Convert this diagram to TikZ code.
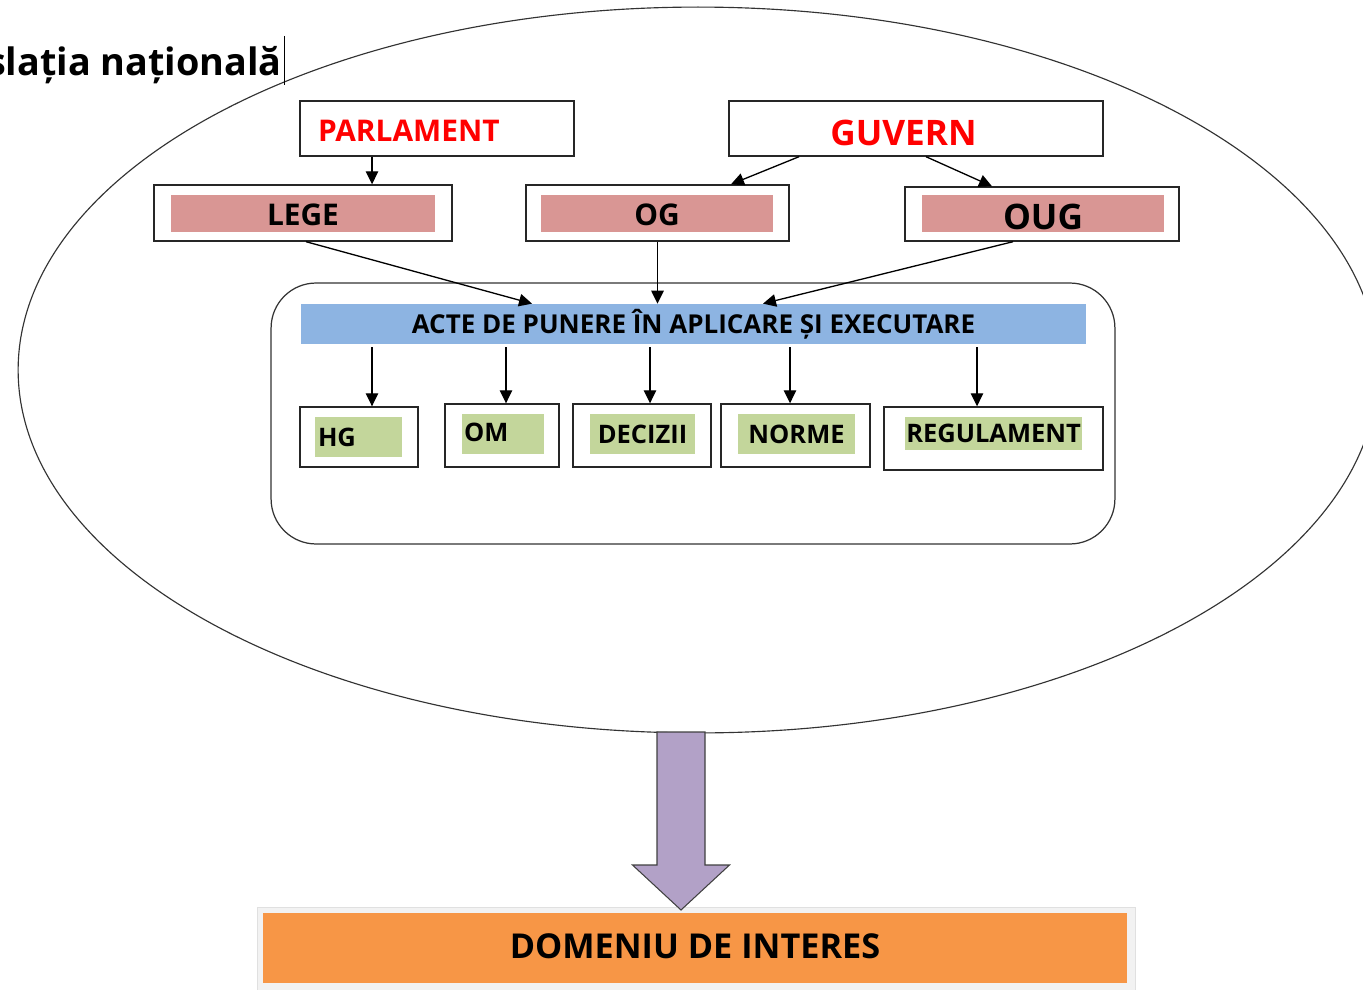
\documentclass[tikz,border=0pt]{standalone}
\usepackage{fontspec}
\setmainfont{Open Sans}
\usetikzlibrary{shapes.geometric,arrows.meta,calc}
\definecolor{roz}{HTML}{D99694}
\definecolor{albastru}{HTML}{8DB4E2}
\definecolor{verde}{HTML}{C3D69B}
\definecolor{mov}{HTML}{B2A1C7}
\definecolor{portocaliu}{HTML}{F79646}
\newcommand{\coboara}[2]{\raisebox{#1}[\height][\depth]{#2}}

\begin{document}
\begin{tikzpicture}[x=0.02cm, y=-0.02cm,
    cadru/.style={draw=black!85, line width=0.8pt, fill=white, inner sep=0},
    bara/.style={inner sep=0, text=black},
    litmic/.style={font=\bfseries\fontsize{14.5}{17}\selectfont},
    litmare/.style={font=\bfseries\fontsize{17}{20}\selectfont},
    litmaxi/.style={font=\bfseries\fontsize{20}{23}\selectfont},
    sageata/.style={line width=0.75pt, -{Triangle[length=0.26cm, width=0.25cm]}}]
        \useasboundingbox (0,0) rectangle (1363,990);
        \node (sfera) [draw=black!80, line width=0.65pt, ellipse, inner sep=0, minimum width=27.2cm, minimum height=14.52cm] at (698,370) {};
        \node (titlu) [anchor=base east, inner sep=0, font=\bfseries\fontsize{21.5}{24}\selectfont] at (282,76) {Legislația națională};
        \draw[line width=0.4pt] ($(titlu.base east)+(2,-40)$) -- ++(0,49);

        \node (parlament) [cadru, minimum width=5.48cm, minimum height=1.1cm, text width=4.76cm, inner xsep=0.36cm, align=left, text=red, litmare] at (437,128.5) {\coboara{-0.05cm}{PARLAMENT}};
        \node (guvern) [cadru, minimum width=7.48cm, minimum height=1.1cm, text width=7.48cm, align=center, text=red, litmaxi] at (916,128.5) {\coboara{-0.08cm}{GUVERN}\hspace*{0.5cm}};

        \node (lege) [cadru, minimum width=5.96cm, minimum height=1.12cm] at (303,213) {};
        \node (legetxt) [bara, fill=roz, minimum width=5.28cm, minimum height=0.74cm, litmare] at (303,213.5) {\coboara{-0.03cm}{LEGE}};
        \node (og) [cadru, minimum width=5.26cm, minimum height=1.12cm] at (657.5,213) {};
        \node (ogtxt) [bara, fill=roz, minimum width=4.64cm, minimum height=0.74cm, litmare] at (657,213.5) {\coboara{-0.03cm}{OG}};
        \node (oug) [cadru, minimum width=5.48cm, minimum height=1.08cm] at (1042,214) {};
        \node (ougtxt) [bara, fill=roz, minimum width=4.84cm, minimum height=0.74cm, litmaxi] at (1043,213.5) {\coboara{-0.07cm}{OUG}};

        \node (cutie) [draw=black!80, line width=0.7pt, rounded corners=0.9cm, minimum width=16.88cm, minimum height=5.22cm, inner sep=0] at (693,413.5) {};
        \node (acte) [bara, fill=albastru, minimum width=15.7cm, minimum height=0.8cm, font=\bfseries\fontsize{14.8}{17}\selectfont] at (693.5,324) {ACTE DE PUNERE ÎN APLICARE ȘI EXECUTARE};

        \node (hg) [cadru, minimum width=2.36cm, minimum height=1.2cm] at (359,437) {};
        \node (hgtxt) [bara, fill=verde, minimum width=1.74cm, minimum height=0.8cm, text width=1.62cm, inner xsep=0.06cm, align=left, litmic] at (358.5,437) {HG};
        \node (om) [cadru, minimum width=2.28cm, minimum height=1.26cm] at (502,435.5) {};
        \node (omtxt) [bara, fill=verde, minimum width=1.64cm, minimum height=0.8cm, text width=1.56cm, inner xsep=0.04cm, align=left, litmic] at (503,434) {\coboara{0.03cm}{OM}};
        \node (decizii) [cadru, minimum width=2.76cm, minimum height=1.26cm] at (642,435.5) {};
        \node (deciziitxt) [bara, fill=verde, minimum width=2.1cm, minimum height=0.8cm, litmic] at (642.5,434) {DECIZII};
        \node (norme) [cadru, minimum width=2.98cm, minimum height=1.26cm] at (795.5,435.5) {};
        \node (normetxt) [bara, fill=verde, minimum width=2.34cm, minimum height=0.8cm, litmic] at (796.5,434) {NORME};
        \node (regulament) [cadru, minimum width=4.38cm, minimum height=1.26cm] at (993.5,438.5) {};
        \node (regulamenttxt) [bara, fill=verde, minimum width=3.54cm, minimum height=0.66cm, litmic] at (993.5,433.5) {REGULAMENT};

        \draw[sageata] ([xshift=-1.3cm]parlament.south) -- ([xshift=-1.3cm]parlament.south |- lege.north);
        \draw[sageata] ([xshift=-2.34cm]guvern.south) -- ([xshift=1.47cm]og.north);
        \draw[sageata] ([xshift=0.2cm]guvern.south) -- ([xshift=-1.0cm]oug.north);
        \draw[sageata] ([xshift=0.06cm]lege.south) -- ([xshift=-3.23cm]acte.north);
        \draw[sageata] (og.south) -- (og.south |- acte.north);
        \draw[sageata] ([xshift=-0.58cm]oug.south) -- ([xshift=1.39cm]acte.north);
        \draw[sageata] ([xshift=0.26cm, yshift=-0.06cm]hg.north |- acte.south) -- ([xshift=0.26cm]hg.north);
        \draw[sageata] ([xshift=0.08cm, yshift=-0.06cm]om.north |- acte.south) -- ([xshift=0.08cm]om.north);
        \draw[sageata] ([xshift=0.16cm, yshift=-0.06cm]decizii.north |- acte.south) -- ([xshift=0.16cm]decizii.north);
        \draw[sageata] ([xshift=-0.11cm, yshift=-0.06cm]norme.north |- acte.south) -- ([xshift=-0.11cm]norme.north);
        \draw[sageata] ([xshift=-0.33cm, yshift=-0.06cm]regulament.north |- acte.south) -- ([xshift=-0.33cm]regulament.north);

        \node (domeniu) [fill=black!5, draw=black!12, minimum width=17.56cm, minimum height=1.66cm, inner sep=0] at (696,948.5) {};
        \node (domeniutxt) [bara, fill=portocaliu, minimum width=17.28cm, minimum height=1.4cm, font=\bfseries\fontsize{19.5}{23}\selectfont] at (695,948) {\coboara{0.04cm}{DOMENIU DE INTERES}};

        \coordinate (coada) at (681,732);
        \coordinate (vf) at (681,910);
        \draw[fill=mov, draw=black!75, line width=0.6pt] (coada) ++(-24,0) -- ++(0,133) -- ++(-24.5,0) -- (vf) -- ++(48.5,-45) -- ++(-24.5,0) -- ++(0,-133) -- cycle;
\end{tikzpicture}
\end{document}
